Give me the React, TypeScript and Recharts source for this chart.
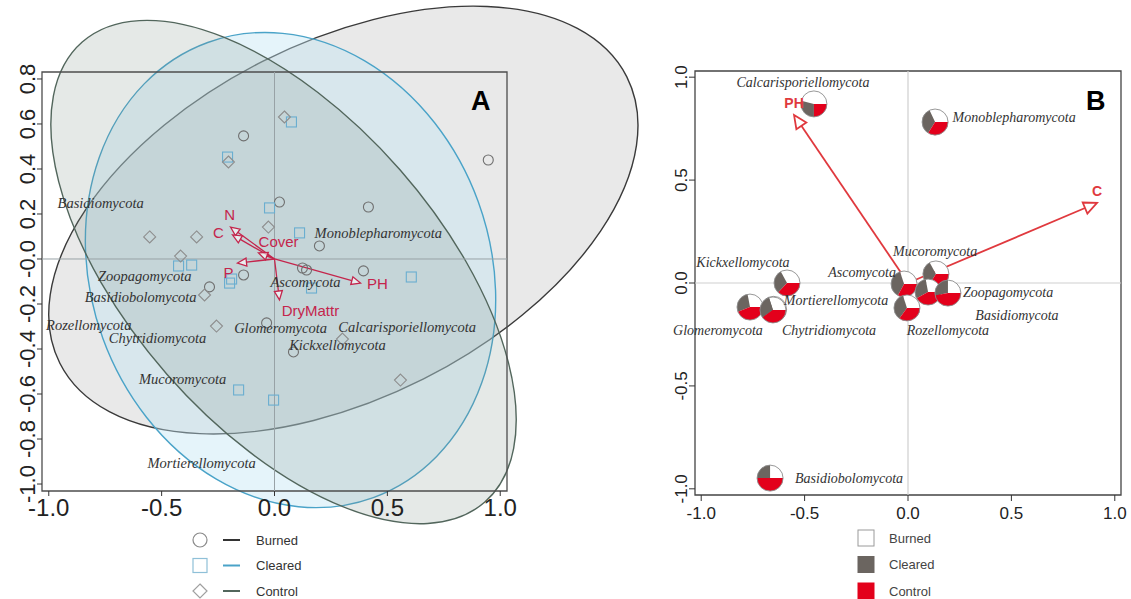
import React from 'react';
import {
  ScatterChart,
  Scatter,
  XAxis,
  YAxis,
  ReferenceArea,
  ReferenceLine,
  Legend,
  Sector,
} from 'recharts';

// ---------- Panel A : sample scores ----------
const groups = ['Burned', 'Cleared', 'Control'];

const burnedPts = [
  { x: -0.137, y: 0.547 }, { x: 0.022, y: 0.253 }, { x: 0.416, y: 0.231 },
  { x: 0.947, y: 0.44 }, { x: 0.199, y: 0.058 }, { x: 0.124, y: -0.04 },
  { x: 0.142, y: -0.049 }, { x: 0.394, y: -0.053 }, { x: -0.137, y: -0.071 },
  { x: -0.288, y: -0.124 }, { x: -0.035, y: -0.284 }, { x: 0.084, y: -0.413 },
];
const clearedPts = [
  { x: -0.208, y: 0.453 }, { x: 0.075, y: 0.609 }, { x: -0.022, y: 0.227 },
  { x: 0.111, y: 0.116 }, { x: -0.425, y: -0.031 }, { x: -0.367, y: -0.027 },
  { x: -0.199, y: -0.107 }, { x: -0.19, y: -0.089 }, { x: 0.164, y: -0.129 },
  { x: 0.606, y: -0.08 }, { x: -0.159, y: -0.582 }, { x: -0.004, y: -0.627 },
];
const controlPts = [
  { x: 0.044, y: 0.631 }, { x: -0.204, y: 0.431 }, { x: -0.553, y: 0.098 },
  { x: -0.345, y: 0.098 }, { x: -0.416, y: 0.013 }, { x: -0.027, y: 0.142 },
  { x: -0.31, y: -0.16 }, { x: -0.257, y: -0.298 }, { x: 0.558, y: -0.538 },
  { x: 0.301, y: -0.356 },
];

// group ellipses: centre, semi axes (axis units), rotation (deg)
const ellipseCx = [0.305, 0.071, 0.04];
const ellipseCy = [0.173, -0.049, -0.058];
const ellipseRx = [1.407, 0.885, 1.354];
const ellipseRy = [0.791, 1.076, 0.689];
const ellipseAngle = [-26.8, -20, 48.8];

const phylaA = [
  { name: 'Basidiomycota', x: -0.77, y: 0.249 },
  { name: 'Monoblepharomycota', x: 0.46, y: 0.116 },
  { name: 'Zoopagomycota', x: -0.575, y: -0.076 },
  { name: 'Ascomycota', x: 0.137, y: -0.102 },
  { name: 'Basidiobolomycota', x: -0.593, y: -0.169 },
  { name: 'Rozellomycota', x: -0.823, y: -0.293 },
  { name: 'Chytridiomycota', x: -0.518, y: -0.351 },
  { name: 'Glomeromycota', x: 0.027, y: -0.307 },
  { name: 'Calcarisporiellomycota', x: 0.588, y: -0.302 },
  { name: 'Kickxellomycota', x: 0.279, y: -0.382 },
  { name: 'Mucoromycota', x: -0.407, y: -0.533 },
  { name: 'Mortierellomycota', x: -0.323, y: -0.907 },
];

const envA = [
  { name: 'N', x: -0.195, y: 0.142 },
  { name: 'C', x: -0.186, y: 0.107 },
  { name: 'Cover', x: -0.071, y: 0.027 },
  { name: 'P', x: -0.164, y: -0.018 },
  { name: 'DryMattr', x: 0.022, y: -0.182 },
  { name: 'PH', x: 0.381, y: -0.107 },
];
const envALabels = [
  { name: 'N', x: -0.199, y: 0.196 },
  { name: 'C', x: -0.248, y: 0.116 },
  { name: 'Cover', x: 0.018, y: 0.076 },
  { name: 'P', x: -0.204, y: -0.062 },
  { name: 'DryMattr', x: 0.159, y: -0.227 },
  { name: 'PH', x: 0.456, y: -0.111 },
];

const xTicksA = [-1, -0.5, 0, 0.5, 1];
const yTicksA = [-1, -0.8, -0.6, -0.4, -0.2, 0, 0.2, 0.4, 0.6, 0.8];

// ---------- Panel B : phylum scores with group shares ----------
const phylaB = [
  { name: 'Calcarisporiellomycota', x: -0.455, y: 0.87, burned: 0.46, cleared: 0.29, control: 0.25 },
  { name: 'Monoblepharomycota', x: 0.131, y: 0.782, burned: 0.32, cleared: 0.34, control: 0.34 },
  { name: 'Kickxellomycota', x: -0.585, y: 0.0, burned: 0.33, cleared: 0.3, control: 0.37 },
  { name: 'Mortierellomycota', x: -0.65, y: -0.128, burned: 0.3, cleared: 0.3, control: 0.4 },
  { name: 'Glomeromycota', x: -0.764, y: -0.117, burned: 0.28, cleared: 0.28, control: 0.44 },
  { name: 'Chytridiomycota', x: -0.653, y: -0.131, burned: 0.3, cleared: 0.3, control: 0.4 },
  { name: 'Ascomycota', x: -0.019, y: -0.005, burned: 0.3, cleared: 0.37, control: 0.33 },
  { name: 'Mucoromycota', x: 0.135, y: 0.044, burned: 0.33, cleared: 0.33, control: 0.34 },
  { name: 'Rozellomycota', x: -0.005, y: -0.121, burned: 0.3, cleared: 0.35, control: 0.35 },
  { name: 'Basidiomycota', x: 0.097, y: -0.044, burned: 0.28, cleared: 0.3, control: 0.42 },
  { name: 'Zoopagomycota', x: 0.193, y: -0.049, burned: 0.25, cleared: 0.28, control: 0.47 },
  { name: 'Basidiobolomycota', x: -0.667, y: -0.948, burned: 0.25, cleared: 0.25, control: 0.5 },
];
const phylaBLabels = [
  { name: 'Calcarisporiellomycota', x: -0.508, y: 0.972 },
  { name: 'Monoblepharomycota', x: 0.513, y: 0.802 },
  { name: 'Kickxellomycota', x: -0.798, y: 0.102 },
  { name: 'Mortierellomycota', x: -0.348, y: -0.087 },
  { name: 'Glomeromycota', x: -0.919, y: -0.233 },
  { name: 'Chytridiomycota', x: -0.382, y: -0.233 },
  { name: 'Ascomycota', x: -0.222, y: 0.053 },
  { name: 'Mucoromycota', x: 0.131, y: 0.155 },
  { name: 'Zoopagomycota', x: 0.484, y: -0.044 },
  { name: 'Basidiomycota', x: 0.527, y: -0.16 },
  { name: 'Rozellomycota', x: 0.193, y: -0.233 },
  { name: 'Basidiobolomycota', x: -0.285, y: -0.948 },
];
const envB = [
  { name: 'PH', x: -0.551, y: 0.816 },
  { name: 'C', x: 0.914, y: 0.389 },
];
const envBLabels = [
  { name: 'PH', x: -0.551, y: 0.875 },
  { name: 'C', x: 0.914, y: 0.447 },
];
const ticksB = [-1, -0.5, 0, 0.5, 1];

// ---------- styles ----------
const ellipseStroke = ['#3a3a3a', '#4aa3c8', '#52665c'];
const ellipseFill = ['#a9a9a9', '#bfe3f2', '#7d9189'];
const ellipseOpacity = [0.25, 0.4, 0.2];
const pieColors = ['#ffffff', '#6b6560', '#e3001b'];
const legendSymbolA = ['#8a8a8a', '#8fc0d8', '#a0a0a0'];
const legendLineA = ['#333333', '#4aa3c8', '#52665c'];
const SANS = '"Liberation Sans", Arial, sans-serif';
const SERIF = '"Liberation Serif", "Times New Roman", serif';
const ARROW_A = '#c4254c';
const ARROW_B = '#e0393e';

const fmtA = (v: number) => (v === 0 ? '-0.0' : v.toFixed(1));
const fmt = (v: number) => v.toFixed(1);

const RotTick = (props: any) => {
  const { x, y, payload, fmtFn, size, color } = props;
  return (
    <text
      transform={`translate(${x},${y}) rotate(-90)`}
      textAnchor="middle"
      fontSize={size}
      fontFamily={SANS}
      fill={color}
    >
      {fmtFn(payload.value)}
    </text>
  );
};

const ellipseShape = (i: number) => (p: any) => {
  const w = Math.abs(p.width);
  const h = Math.abs(p.height);
  const cx = p.x + p.width / 2;
  const cy = p.y + p.height / 2;
  return (
    <ellipse
      cx={cx}
      cy={cy}
      rx={w / 2}
      ry={h / 2}
      transform={`rotate(${ellipseAngle[i]} ${cx} ${cy})`}
      fill={ellipseFill[i]}
      fillOpacity={ellipseOpacity[i]}
      stroke={ellipseStroke[i]}
      strokeWidth={1.4}
    />
  );
};

const arrowShape = (color: string, len: number, half: number, width: number) => (p: any) => {
  const { x1, y1, x2, y2 } = p;
  const ang = Math.atan2(y2 - y1, x2 - x1);
  const bx = x2 - len * Math.cos(ang);
  const by = y2 - len * Math.sin(ang);
  const nx = -Math.sin(ang) * half;
  const ny = Math.cos(ang) * half;
  return (
    <g>
      <line x1={x1} y1={y1} x2={bx} y2={by} stroke={color} strokeWidth={width} />
      <polygon
        points={`${x2},${y2} ${bx + nx},${by + ny} ${bx - nx},${by - ny}`}
        fill="#ffffff"
        fillOpacity={0.6}
        stroke={color}
        strokeWidth={width}
        strokeLinejoin="miter"
      />
    </g>
  );
};

const circleShape = (p: any) => (
  <circle cx={p.cx} cy={p.cy} r={5} fill="none" stroke="#6f6f6f" strokeWidth={1.1} />
);
const squareShape = (p: any) => (
  <rect x={p.cx - 5} y={p.cy - 5} width={10} height={10} fill="none" stroke="#6aaed0" strokeWidth={1.1} />
);
const diamondShape = (p: any) => (
  <polygon
    points={`${p.cx},${p.cy - 6} ${p.cx + 6},${p.cy} ${p.cx},${p.cy + 6} ${p.cx - 6},${p.cy}`}
    fill="none"
    stroke="#8d8d8d"
    strokeWidth={1.1}
  />
);

const textShape = (size: number, color: string, family: string, italic: boolean, bold: boolean) => (p: any) => (
  <text
    x={p.cx}
    y={p.cy}
    textAnchor="middle"
    dominantBaseline="central"
    fontSize={size}
    fontFamily={family}
    fontStyle={italic ? 'italic' : 'normal'}
    fontWeight={bold ? 'bold' : 'normal'}
    fill={color}
  >
    {p.payload.name}
  </text>
);

const pieShape = (p: any) => {
  const { cx, cy, payload } = p;
  const vals = [payload.burned, payload.cleared, payload.control];
  const total = vals.reduce((a: number, b: number) => a + b, 0);
  let start = 0;
  return (
    <g>
      {vals.map((v: number, i: number) => {
        const s = start;
        start += (v / total) * 360;
        return (
          <Sector
            key={i}
            cx={cx}
            cy={cy}
            innerRadius={0}
            outerRadius={13}
            startAngle={s}
            endAngle={start}
            fill={pieColors[i]}
            stroke="none"
          />
        );
      })}
      <circle cx={cx} cy={cy} r={13} fill="none" stroke="#8c8c8c" strokeWidth={0.9} />
    </g>
  );
};

const LegendA = () => (
  <svg width={150} height={72}>
    {groups.map((g, i) => {
      const cy = 12 + i * 25.5;
      return (
        <g key={g}>
          {i === 0 && <circle cx={14} cy={cy} r={7} fill="none" stroke={legendSymbolA[i]} strokeWidth={1.2} />}
          {i === 1 && (
            <rect x={7} y={cy - 7} width={14} height={14} fill="none" stroke={legendSymbolA[i]} strokeWidth={1.2} />
          )}
          {i === 2 && (
            <polygon
              points={`14,${cy - 7} 21,${cy} 14,${cy + 7} 7,${cy}`}
              fill="none"
              stroke={legendSymbolA[i]}
              strokeWidth={1.2}
            />
          )}
          <line x1={37} y1={cy} x2={54} y2={cy} stroke={legendLineA[i]} strokeWidth={2} />
          <text x={70} y={cy} dominantBaseline="central" fontSize={13} fontFamily={SANS} fill="#333">
            {g}
          </text>
        </g>
      );
    })}
  </svg>
);

const LegendB = () => (
  <svg width={130} height={72}>
    {groups.map((g, i) => {
      const cy = 10 + i * 26.5;
      return (
        <g key={g}>
          <rect
            x={1}
            y={cy - 8}
            width={16}
            height={16}
            fill={pieColors[i]}
            stroke={i === 0 ? '#9a9a9a' : pieColors[i]}
            strokeWidth={1}
          />
          <text x={32} y={cy} dominantBaseline="central" fontSize={13} fontFamily={SANS} fill="#444">
            {g}
          </text>
        </g>
      );
    })}
  </svg>
);

const PanelA = () => (
  <ScatterChart width={680} height={599} margin={{ top: 72, right: 173, bottom: 0, left: 0 }}>
    <XAxis
      type="number"
      dataKey="x"
      domain={[-1.03, 1.03]}
      ticks={xTicksA}
      tickFormatter={fmt}
      axisLine={false}
      tickLine={{ stroke: '#333' }}
      tickSize={5}
      tickMargin={3}
      height={108}
      tick={{ fontSize: 24, fill: '#222', fontFamily: SANS }}
    />
    <YAxis
      type="number"
      dataKey="y"
      domain={[-1.031, 0.831]}
      ticks={yTicksA}
      width={42}
      axisLine={false}
      tickLine={{ stroke: '#333' }}
      tickSize={5}
      tickMargin={2}
      tick={<RotTick fmtFn={fmtA} size={22} color="#222" />}
    />
    {groups.map((g, i) => (
      <ReferenceArea
        key={g}
        x1={ellipseCx[i] - ellipseRx[i]}
        x2={ellipseCx[i] + ellipseRx[i]}
        y1={ellipseCy[i] - ellipseRy[i]}
        y2={ellipseCy[i] + ellipseRy[i]}
        ifOverflow="visible"
        shape={ellipseShape(i)}
      />
    ))}
    <ReferenceLine x={0} stroke="#98a2a6" strokeWidth={1} />
    <ReferenceLine y={0} stroke="#98a2a6" strokeWidth={1} />
    <ReferenceArea
      x1={-1.03}
      x2={1.03}
      y1={-1.031}
      y2={0.831}
      ifOverflow="visible"
      fill="none"
      fillOpacity={0}
      stroke="#4d4d4d"
      strokeWidth={1.3}
    />
    <Scatter data={burnedPts} shape={circleShape} isAnimationActive={false} />
    <Scatter data={clearedPts} shape={squareShape} isAnimationActive={false} />
    <Scatter data={controlPts} shape={diamondShape} isAnimationActive={false} />
    <Scatter data={phylaA} shape={textShape(14.5, '#333', SERIF, true, false)} isAnimationActive={false} />
    {envA.map((e) => (
      <ReferenceLine
        key={e.name}
        segment={[{ x: 0, y: 0 }, { x: e.x, y: e.y }]}
        ifOverflow="visible"
        shape={arrowShape(ARROW_A, 9, 4, 1.3)}
      />
    ))}
    <Scatter data={envALabels} shape={textShape(15, ARROW_A, SANS, false, false)} isAnimationActive={false} />
    <Legend
      layout="horizontal"
      verticalAlign="middle"
      align="center"
      wrapperStyle={{ left: 186, top: 528, width: 150, height: 72 }}
      content={() => <LegendA />}
    />
  </ScatterChart>
);

const PanelB = () => (
  <ScatterChart width={531} height={599} margin={{ top: 71, right: 10, bottom: 0, left: 0 }}>
    <XAxis
      type="number"
      dataKey="x"
      domain={[-1.03, 1.03]}
      ticks={ticksB}
      tickFormatter={fmt}
      axisLine={false}
      tickLine={{ stroke: '#333' }}
      tickSize={6}
      tickMargin={6}
      height={104}
      tick={{ fontSize: 17, fill: '#222', fontFamily: SANS }}
    />
    <YAxis
      type="number"
      dataKey="y"
      domain={[-1.03, 1.03]}
      ticks={ticksB}
      width={95}
      axisLine={false}
      tickLine={{ stroke: '#333' }}
      tickSize={6}
      tickMargin={2}
      tick={<RotTick fmtFn={fmt} size={17} color="#222" />}
    />
    <ReferenceLine x={0} stroke="#cfcfcf" strokeWidth={1.2} />
    <ReferenceLine y={0} stroke="#cfcfcf" strokeWidth={1.2} />
    <ReferenceArea
      x1={-1.03}
      x2={1.03}
      y1={-1.03}
      y2={1.03}
      ifOverflow="visible"
      fill="none"
      fillOpacity={0}
      stroke="#444"
      strokeWidth={1.3}
    />
    {envB.map((e) => (
      <ReferenceLine
        key={e.name}
        segment={[{ x: 0, y: 0 }, { x: e.x, y: e.y }]}
        ifOverflow="visible"
        shape={arrowShape(ARROW_B, 13, 6, 1.8)}
      />
    ))}
    <Scatter data={phylaB} shape={pieShape} isAnimationActive={false} />
    <Scatter data={phylaBLabels} shape={textShape(14, '#333', SERIF, true, false)} isAnimationActive={false} />
    <Scatter data={envBLabels} shape={textShape(14, ARROW_B, SANS, false, true)} isAnimationActive={false} />
    <Legend
      layout="horizontal"
      verticalAlign="middle"
      align="center"
      wrapperStyle={{ left: 257, top: 528, width: 130, height: 72 }}
      content={() => <LegendB />}
    />
  </ScatterChart>
);

const panelLetter: React.CSSProperties = {
  position: 'absolute',
  fontFamily: SANS,
  fontWeight: 'bold',
  fontSize: 27,
  color: '#000',
  lineHeight: 1,
};

export default function App() {
  return (
    <div
      style={{
        position: 'absolute',
        left: 0,
        top: 0,
        width: 1131,
        height: 599,
        background: '#fff',
        overflow: 'hidden',
      }}
    >
      <div style={{ position: 'absolute', left: 0, top: 0 }}>
        <PanelA />
      </div>
      <div style={{ position: 'absolute', left: 600, top: 0 }}>
        <PanelB />
      </div>
      <div style={{ ...panelLetter, left: 471, top: 88 }}>A</div>
      <div style={{ ...panelLetter, left: 1086, top: 88 }}>B</div>
    </div>
  );
}
